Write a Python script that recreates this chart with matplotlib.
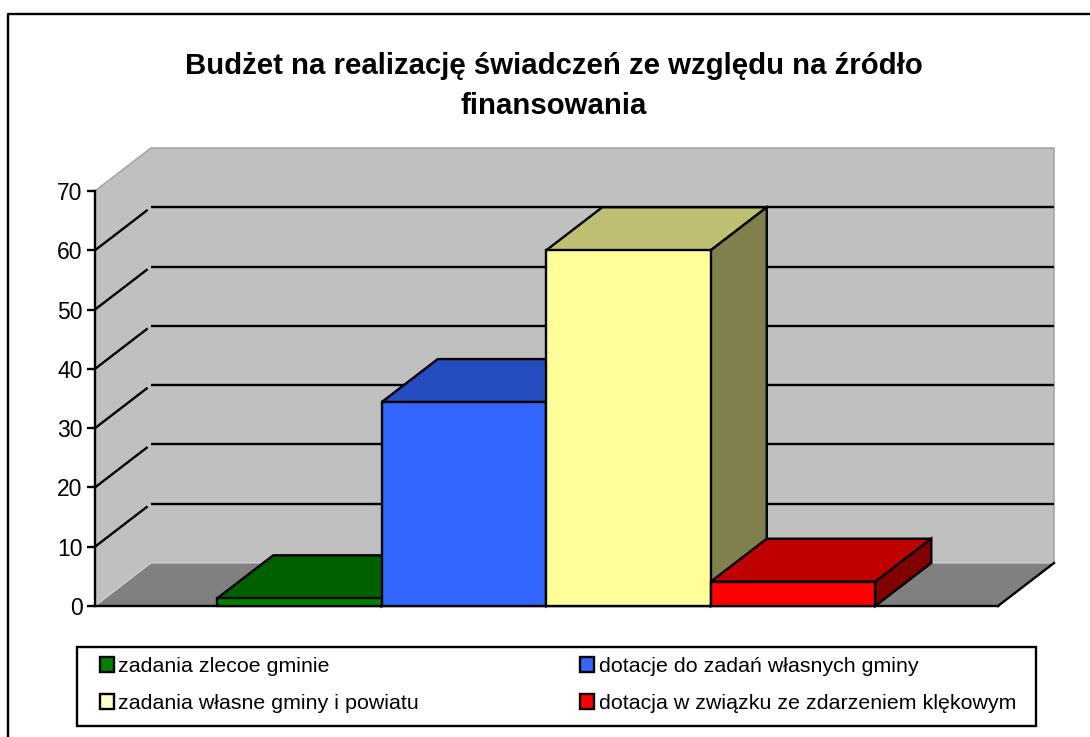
import matplotlib
matplotlib.use("Agg")
import matplotlib.pyplot as plt
from matplotlib.patches import Patch, Polygon, Rectangle

plt.rcParams["font.family"] = ["Liberation Sans", "DejaVu Sans"]

TITLE = "Budżet na realizację świadczeń ze względu na źródło\nfinansowania"
labels = [
    "zadania zlecoe gminie",
    "dotacje do zadań własnych gminy",
    "zadania własne gminy i powiatu",
    "dotacja w związku ze zdarzeniem klękowym",
]
values = [1.3, 34.4, 60, 4.1]
yticks = [0, 10, 20, 30, 40, 50, 60, 70]

front_colors = ["#008000", "#3366FF", "#FFFF99", "#FF0000"]
top_colors = ["#006000", "#264DBF", "#BFBF73", "#BF0000"]
side_colors = ["#004000", "#1A3380", "#80804D", "#800000"]
legend_colors = ["#008000", "#3366FF", "#FFFFCC", "#FF0000"]

W, H = 1090, 737
LW = 1.7
# depth of the fake 3d box, in data units
DX = 56 / 164.5
DY = 43 / 5.93
XMIN, XMAX = -1.243, 4.246
YMAX = 70

fig = plt.figure(figsize=(W / 100, H / 100), dpi=100)
ax = fig.add_axes([95 / W, (H - 606) / H, 903 / W, 415 / H])
ax.set_xlim(XMIN, XMAX)
ax.set_ylim(0, YMAX)

# outer frame, only left and top reach the picture
fig.add_artist(plt.Line2D([8 / W, 8 / W, 1], [0, 1 - 14 / H, 1 - 14 / H], color="k", lw=LW))

fig.text(554 / W, 1 - 86 / H, TITLE, ha="center", va="center", fontsize=21.2,
         fontweight="bold", linespacing=1.5)

# walls and floor
left_wall = [(XMIN, 0), (XMIN, YMAX), (XMIN + DX, YMAX + DY), (XMIN + DX, DY)]
back_wall = [(XMIN + DX, DY), (XMIN + DX, YMAX + DY), (XMAX + DX, YMAX + DY), (XMAX + DX, DY)]
floor = [(XMIN, 0), (XMIN + DX, DY), (XMAX + DX, DY), (XMAX, 0)]
ax.add_patch(Polygon(left_wall, fc="#C0C0C0", ec="none", clip_on=False, zorder=1))
ax.add_patch(Polygon(back_wall, fc="#C0C0C0", ec="none", clip_on=False, zorder=1))
ax.add_patch(Polygon(floor, fc="#808080", ec="none", clip_on=False, zorder=1))
ax.plot([XMIN, XMIN + DX, XMAX + DX, XMAX + DX], [YMAX, YMAX + DY, YMAX + DY, DY],
        color="#A6A6A6", lw=1.2, clip_on=False, zorder=1.5)
ax.plot([XMIN, XMIN + DX, XMAX + DX], [0, DY, DY], color="#D8D8D8", lw=0.7, clip_on=False, zorder=1.5)
ax.plot([XMAX, XMAX + DX], [0, DY], color="k", lw=LW, clip_on=False, zorder=2)

# gridlines, bent around the corner
for t in yticks[1:-1]:
    ax.plot([XMIN, XMIN + 0.94 * DX], [t, t + 0.94 * DY], color="k", lw=LW, clip_on=False, zorder=2,
            solid_capstyle="butt")
    ax.plot([XMIN + DX, XMAX + DX], [t + DY, t + DY], color="k", lw=LW, clip_on=False, zorder=2,
            solid_capstyle="butt")

# bars, left to right so each one covers the previous one
for i, v in enumerate(values):
    z = 3 + i
    l, r = i - 0.5, i + 0.5
    top = [(l, v), (l + DX, v + DY), (r + DX, v + DY), (r, v)]
    side = [(r, 0), (r, v), (r + DX, v + DY), (r + DX, DY)]
    ax.add_patch(Polygon(top, fc=top_colors[i], ec="k", lw=LW, joinstyle="miter", clip_on=False, zorder=z))
    ax.add_patch(Polygon(side, fc=side_colors[i], ec="k", lw=LW, joinstyle="miter", clip_on=False, zorder=z))
    ax.bar(i, v, width=1, color=front_colors[i], edgecolor="k", linewidth=LW, zorder=z + 0.5, clip_on=False)

for name, spine in ax.spines.items():
    spine.set_visible(name in ("left", "bottom"))
    spine.set_linewidth(LW)
    spine.set_zorder(2.5)
ax.patch.set_visible(False)
ax.set_xticks([])
ax.set_yticks(yticks)
ax.tick_params(axis="y", length=5.5, width=LW, pad=3.5, labelsize=16.5)

# legend frame on its own, the entries need more room sideways than up and down
fig.add_artist(Rectangle((77 / W, (H - 726) / H), 959 / W, 79 / H, transform=fig.transFigure,
                         fc="white", ec="k", lw=LW))

# column first order in the legend box
order = [0, 2, 1, 3]
handles = [Patch(fc=legend_colors[i], ec="k", lw=LW, label=labels[i]) for i in order]
fig.legend(
    handles=handles,
    ncols=2,
    mode="expand",
    loc="center left",
    bbox_to_anchor=(100 / W, (H - 685) / H, 916 / W, 0),
    bbox_transform=fig.transFigure,
    borderaxespad=0,
    borderpad=0,
    frameon=False,
    fontsize=15.4,
    handlelength=0.66,
    handleheight=0.66,
    handletextpad=0.2,
    labelspacing=0.85,
).set_zorder(10)

fig.savefig("out.png", dpi=100)
